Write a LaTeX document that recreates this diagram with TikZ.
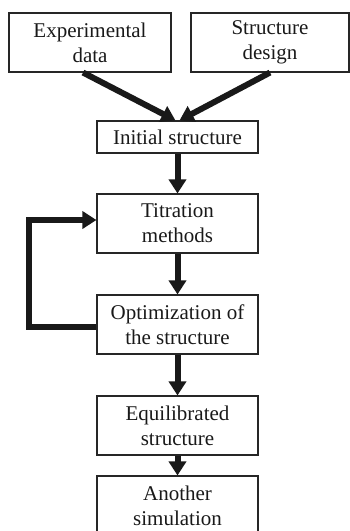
\documentclass[tikz,border=0pt]{standalone}
\usepackage{fontspec}
\setmainfont{Liberation Serif}
\usetikzlibrary{arrows.meta}
\begin{document}
\begin{tikzpicture}[x=1pt,y=-1pt,
  box/.style={draw=black!85,line width=1.1pt,align=center,inner sep=0pt,
    minimum width=161pt,minimum height=59pt,font=\fontsize{21}{25}\selectfont,text=black!90},
  flow/.style={line width=6pt,draw=black!90,-{Triangle[width=17pt,length=14pt]}}]
\useasboundingbox (0,0) rectangle (349,531);
\node[box,minimum width=162pt] (exp) at (90,42.5) {Experimental\\data};
\node[box,minimum width=158pt] (des) at (270,42.5) {Structure\\design};
\node[box,minimum height=32pt] (init) at (177.5,137) {Initial structure};
\node[box] (tit) at (177.5,223.5) {Titration\\methods};
\node[box] (opt) at (177.5,324.5) {Optimization of\\the structure};
\node[box] (equ) at (177.5,425.5) {Equilibrated\\structure};
\node[box] (ano) at (177.5,505.5) {Another\\simulation};
\draw[flow] ([xshift=-7pt]exp.south) -- ([xshift=-2pt]init.north);
\draw[flow] (des.south) -- ([xshift=2pt]init.north);
\draw[flow] (init) -- (tit);
\draw[flow] (tit) -- (opt);
\draw[flow] (opt) -- (equ);
\draw[flow] (equ) -- (ano);
\draw[flow,line join=miter] ([yshift=-2.5pt]opt.west) -- ++(-67,0) |- ([yshift=3.5pt]tit.west);
\end{tikzpicture}
\end{document}
